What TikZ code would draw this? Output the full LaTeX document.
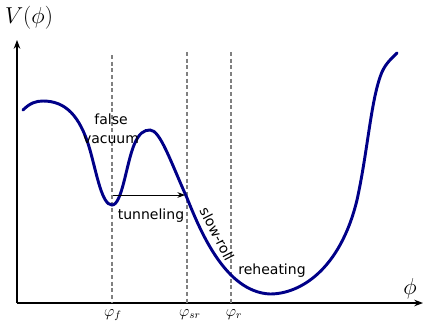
\documentclass[tikz,border=0pt]{standalone}
\usepackage{fontspec}
\setsansfont{DejaVu Sans}
\usetikzlibrary{arrows.meta}

\begin{document}
\begin{tikzpicture}[
    x=0.75pt, y=-0.75pt,
    >=Stealth,
    axis/.style={->, thick, black},
    marker/.style={draw=gray, line width=0.8pt, dash pattern=on 3pt off 2pt},
    potential/.style={draw=cPot, line width=2.2pt, line cap=round},
    tag/.style={font=\sffamily\fontsize{10.5}{14.5}\selectfont, inner sep=1pt, align=center},
    fieldlabel/.style={font=\large, inner sep=0pt},
]

\definecolor{cPot}{HTML}{000088} % blu scuro

\useasboundingbox (0,0) rectangle (424,329);

% assi
\coordinate (origin) at (17,303);
\coordinate (ytip) at (17,40);
\coordinate (xtip) at (423,303);
\draw[axis] (origin) -- (ytip);
\draw[axis] (origin) -- (xtip);
\node[font=\LARGE] (vlabel) at (29,18) {$V(\phi)$};
\node[font=\LARGE] (philabel) at (410,289) {$\phi$};

% linee tratteggiate
\coordinate (ftop) at (112,55);
\coordinate (srtop) at (187,52);
\coordinate (rtop) at (231,52);
\node[fieldlabel, anchor=north] (phif) at (113,309) {$\varphi_f$};
\node[fieldlabel, anchor=north] (phisr) at (190,309) {$\varphi_{sr}$};
\node[fieldlabel, anchor=north] (phir) at (234,309) {$\varphi_r$};
\draw[marker] (ftop) -- (ftop |- origin);
\draw[marker] (srtop) -- (srtop |- origin);
\draw[marker] (rtop) -- (rtop |- origin);

% potenziale
\draw[potential] (23,110) .. controls (30,103) and (36,101) .. (43,101)
    .. controls (65,101) and (80,115) .. (90,150)
    .. controls (97,175) and (102,205) .. (112,205)
    .. controls (122,205) and (126,165) .. (134,145)
    .. controls (139,133) and (144,130) .. (150,130)
    .. controls (160,130) and (170,160) .. (187,198)
    .. controls (200,230) and (225,292) .. (270,294)
    .. controls (300,294) and (340,270) .. (357,200)
    .. controls (368,150) and (371,98) .. (382,72)
    .. controls (386,63) and (392,58) .. (397,53);

% etichette
\node[tag] (false) at (111,129) {false\\vacuum};
\coordinate (fmin) at (113,195);
\coordinate (srpt) at (185,195);
\draw[->, semithick] (fmin) -- (srpt);
\node[tag] (tunnel) at (151,216) {tunneling};
\node[tag, rotate=-63] (slow) at (217,234) {slow-roll};
\node[tag] (reheat) at (272,271) {reheating};

\end{tikzpicture}
\end{document}
